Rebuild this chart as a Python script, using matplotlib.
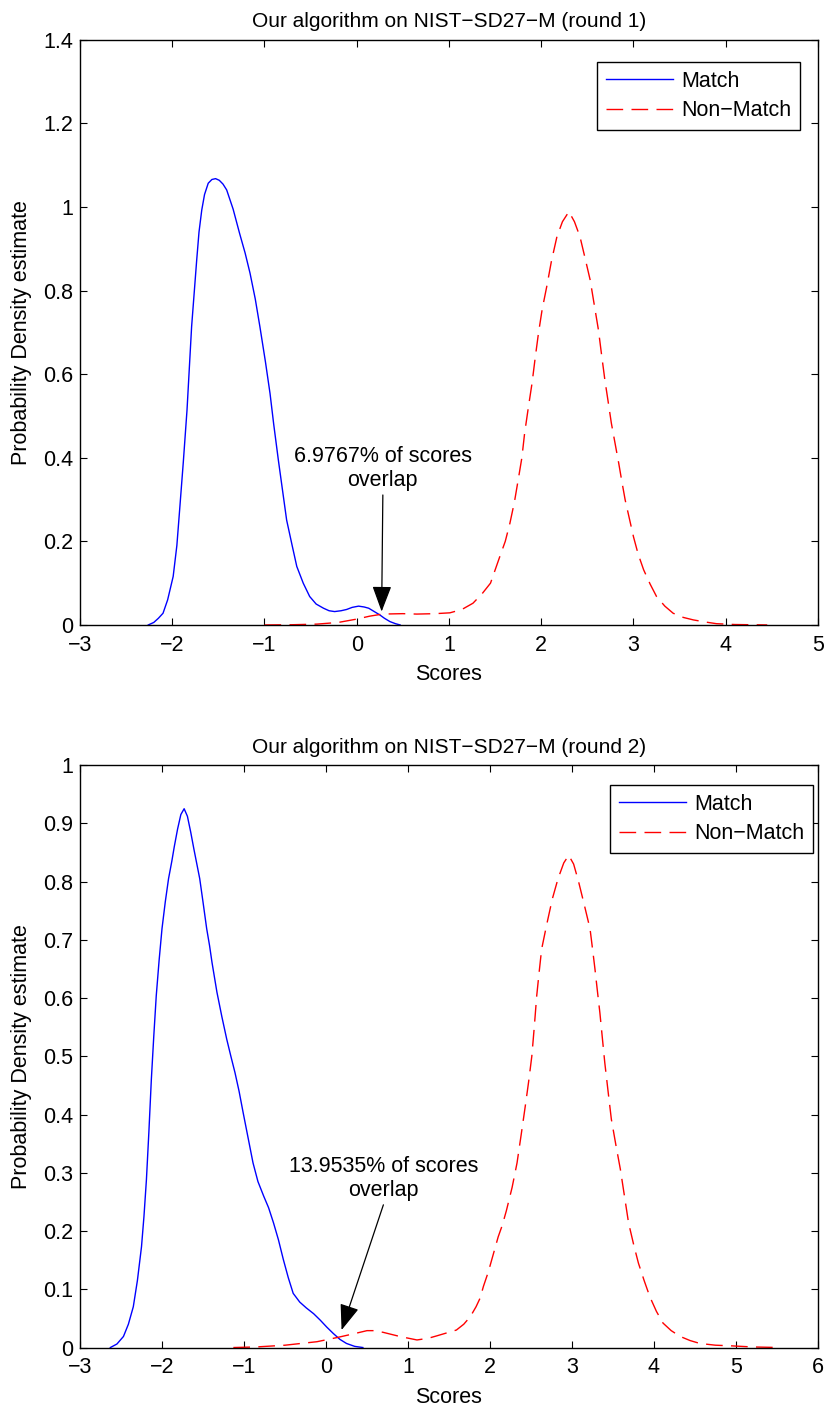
import matplotlib
matplotlib.use("Agg")
import matplotlib.pyplot as plt
from matplotlib.ticker import FuncFormatter, MultipleLocator

plt.rcParams['font.family'] = ['Liberation Sans', 'DejaVu Sans']
plt.rcParams['font.size'] = 15.5

# round 1 density curves
r1_match_x = [-2.26, -2.20, -2.15, -2.10, -2.05, -1.99, -1.95, -1.92, -1.88, -1.84, -1.79,
              -1.735, -1.71, -1.68, -1.65, -1.61, -1.57, -1.53, -1.49, -1.45, -1.41, -1.34,
              -1.27, -1.21, -1.157, -1.10, -1.05, -0.99, -0.94, -0.90, -0.85, -0.80, -0.76,
              -0.70, -0.65, -0.58, -0.51, -0.44, -0.36, -0.30, -0.24, -0.17, -0.11, -0.05,
              0.02, 0.08, 0.13, 0.19, 0.25, 0.30, 0.36, 0.42, 0.47]
r1_match_y = [0.0, 0.006, 0.016, 0.028, 0.06, 0.116, 0.19, 0.275, 0.39, 0.514, 0.714,
              0.873, 0.94, 0.993, 1.03, 1.057, 1.066, 1.068, 1.064, 1.055, 1.041, 0.995,
              0.937, 0.89, 0.842, 0.78, 0.714, 0.63, 0.554, 0.48, 0.395, 0.315, 0.251,
              0.19, 0.14, 0.10, 0.068, 0.05, 0.04, 0.034, 0.032, 0.034, 0.037, 0.042,
              0.045, 0.043, 0.04, 0.032, 0.024, 0.016, 0.008, 0.003, 0.0]
r1_nonmatch_x = [-1.0, -0.7, -0.43, -0.2, 0.0, 0.14, 0.28, 0.5, 0.65, 0.85, 1.01, 1.14, 1.26,
                 1.36, 1.45, 1.55, 1.61, 1.66, 1.71, 1.75, 1.79, 1.82, 1.86, 1.90, 1.935,
                 1.97, 2.01, 2.06, 2.11, 2.17, 2.23, 2.30, 2.36, 2.42, 2.475, 2.53, 2.575,
                 2.62, 2.655, 2.69, 2.725, 2.76, 2.80, 2.84, 2.875, 2.91, 2.955, 3.0, 3.05,
                 3.11, 3.18, 3.25, 3.34, 3.43, 3.54, 3.65, 3.78, 3.90, 4.1, 4.45]
r1_nonmatch_y = [0.0, 0.0005, 0.002, 0.006, 0.014, 0.021, 0.026, 0.027, 0.026, 0.027, 0.029,
                 0.037, 0.052, 0.075, 0.10, 0.163, 0.20, 0.243, 0.295, 0.347, 0.40, 0.459,
                 0.52, 0.578, 0.64, 0.698, 0.755, 0.81, 0.87, 0.929, 0.965, 0.989, 0.965,
                 0.929, 0.878, 0.826, 0.766, 0.706, 0.645, 0.586, 0.535, 0.483, 0.435,
                 0.387, 0.342, 0.299, 0.255, 0.211, 0.17, 0.132, 0.098, 0.068, 0.045,
                 0.028, 0.018, 0.012, 0.007, 0.003, 0.001, 0.0]

# round 2 density curves
r2_match_x = [-2.63, -2.55, -2.47, -2.41, -2.35, -2.30, -2.25, -2.22, -2.19, -2.16, -2.13,
              -2.10, -2.07, -2.035, -2.0, -1.96, -1.92, -1.88, -1.85, -1.81, -1.77, -1.73,
              -1.69, -1.65, -1.61, -1.575, -1.54, -1.50, -1.455, -1.42, -1.39, -1.33, -1.27,
              -1.21, -1.16, -1.11, -1.06, -1.01, -0.95, -0.89, -0.83, -0.76, -0.70, -0.64,
              -0.58, -0.52, -0.46, -0.40, -0.32, -0.24, -0.15, -0.07, 0.01, 0.09, 0.17,
              0.25, 0.35, 0.45]
r2_match_y = [0.0, 0.006, 0.019, 0.04, 0.07, 0.115, 0.173, 0.225, 0.288, 0.37, 0.46,
              0.535, 0.604, 0.665, 0.719, 0.765, 0.805, 0.835, 0.86, 0.89, 0.915, 0.925,
              0.912, 0.885, 0.855, 0.83, 0.805, 0.765, 0.719, 0.69, 0.661, 0.61, 0.568,
              0.529, 0.50, 0.472, 0.44, 0.403, 0.36, 0.317, 0.285, 0.26, 0.24, 0.214,
              0.185, 0.151, 0.12, 0.093, 0.078, 0.068, 0.058, 0.047, 0.035, 0.024, 0.014,
              0.007, 0.002, 0.0]
r2_nonmatch_x = [-1.13, -0.85, -0.5, -0.11, 0.13, 0.35, 0.5, 0.6, 0.70, 0.90, 1.11, 1.25,
                 1.35, 1.47, 1.59, 1.68, 1.76, 1.83, 1.88, 1.92, 1.98, 2.04, 2.10, 2.15,
                 2.20, 2.27, 2.33, 2.38, 2.43, 2.47, 2.51, 2.54, 2.57, 2.60, 2.63, 2.69,
                 2.76, 2.83, 2.90, 2.96, 3.02, 3.08, 3.15, 3.22, 3.25, 3.28, 3.31, 3.34,
                 3.37, 3.40, 3.44, 3.48, 3.535, 3.59, 3.64, 3.69, 3.75, 3.81, 3.88, 3.95,
                 4.03, 4.11, 4.21, 4.32, 4.44, 4.56, 4.75, 4.93, 5.2, 5.54]
r2_nonmatch_y = [0.0, 0.001, 0.004, 0.010, 0.017, 0.024, 0.029, 0.029, 0.026, 0.019, 0.013,
                 0.016, 0.020, 0.025, 0.030, 0.04, 0.053, 0.07, 0.085, 0.105, 0.13, 0.16,
                 0.19, 0.21, 0.235, 0.275, 0.317, 0.365, 0.414, 0.455, 0.50, 0.55, 0.604,
                 0.645, 0.684, 0.725, 0.77, 0.805, 0.832, 0.845, 0.83, 0.80, 0.76, 0.719,
                 0.685, 0.65, 0.612, 0.575, 0.532, 0.489, 0.44, 0.392, 0.348, 0.306, 0.26,
                 0.214, 0.178, 0.145, 0.115, 0.087, 0.062, 0.042, 0.029, 0.019, 0.012,
                 0.007, 0.004, 0.003, 0.001, 0.0]

titles = ["Our algorithm on NIST\u2212SD27\u2212M (round 1)",
          "Our algorithm on NIST\u2212SD27\u2212M (round 2)"]
overlap_text = ["6.9767% of scores\noverlap", "13.9535% of scores\noverlap"]
arrow_tips = [(0.27, 0.032), (0.19, 0.030)]
arrow_tails = [(0.283, 0.311), (0.70, 0.245)]
xlims = [(-3, 5), (-3, 6)]
ylims = [(0, 1.4), (0, 1)]
ysteps = [0.2, 0.1]


def fmt(v, pos):
    return ("%g" % round(v, 6)).replace("-", "\u2212")


fig = plt.figure(figsize=(8.29, 14.05), dpi=100)
ax1 = fig.add_axes([0.0965, 0.5552, 0.8902, 0.4164])
ax2 = fig.add_axes([0.0965, 0.0409, 0.8902, 0.4146])
leg_anchor = [(0.9756, 0.9624), (0.9932, 0.9657)]

data = [(r1_match_x, r1_match_y, r1_nonmatch_x, r1_nonmatch_y),
        (r2_match_x, r2_match_y, r2_nonmatch_x, r2_nonmatch_y)]

for i, ax in enumerate([ax1, ax2]):
    mx, my, nx, ny = data[i]
    ax.plot(mx, my, color="#0000ff", lw=1.0, label="Match")
    ax.plot(nx, ny, color="#ff0000", lw=1.0, linestyle=(0, (12, 6)), label="Non\u2212Match")
    ax.set_xlim(*xlims[i])
    ax.set_ylim(*ylims[i])
    ax.xaxis.set_major_locator(MultipleLocator(1))
    ax.yaxis.set_major_locator(MultipleLocator(ysteps[i]))
    ax.xaxis.set_major_formatter(FuncFormatter(fmt))
    ax.yaxis.set_major_formatter(FuncFormatter(fmt))
    ax.tick_params(direction="in", top=True, right=True, length=5, width=0.8, pad=5)
    ax.tick_params(axis="x", pad=7)
    for s in ax.spines.values():
        s.set_linewidth(1.0)
    ax.set_title(titles[i], pad=9, fontsize=15)
    ax.set_xlabel("Scores", labelpad=6)
    ax.set_ylabel("Probability Density estimate", labelpad=8)
    leg = ax.legend(loc="upper right", bbox_to_anchor=leg_anchor[i], borderaxespad=0,
                    fancybox=False, edgecolor="black", framealpha=1, handlelength=3.1,
                    handletextpad=0.4, borderpad=0.4, labelspacing=0.4)
    leg.get_frame().set_linewidth(1.0)
    ax.annotate("", xy=arrow_tips[i], xytext=arrow_tails[i],
                arrowprops=dict(arrowstyle="-|>,head_length=1.6,head_width=0.6",
                                mutation_scale=10, color="black", lw=0.9,
                                shrinkA=0, shrinkB=0))
    tx, ty = arrow_tails[i]
    ax.text(tx, ty + 0.006 * ylims[i][1], overlap_text[i], ha="center", va="bottom",
            multialignment="center", linespacing=1.2)

fig.savefig("out.png", dpi=100)
